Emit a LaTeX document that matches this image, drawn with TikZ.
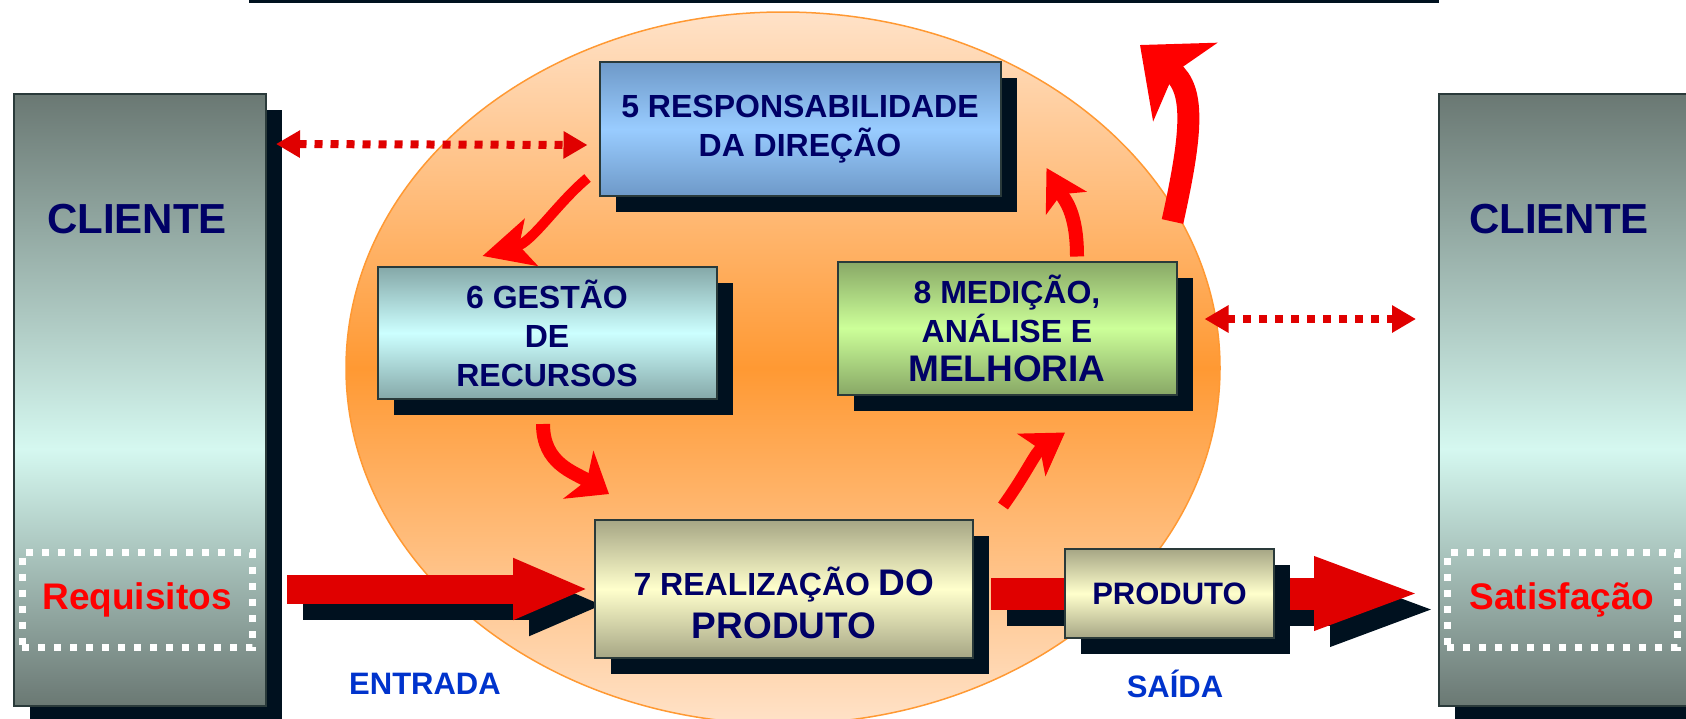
\documentclass[tikz,border=0pt]{standalone}
\usepackage{fontspec}
\setmainfont{Liberation Sans}
\usetikzlibrary{arrows.meta,shadows}

\definecolor{navy}{HTML}{000066}
\definecolor{shadowc}{HTML}{00111F}
\definecolor{boxline}{HTML}{2A3A3A}
\definecolor{redA}{HTML}{FF0000}
\definecolor{redB}{HTML}{E00000}
\definecolor{blueT}{HTML}{0033CC}
\definecolor{cdark}{HTML}{6A7873}
\definecolor{clight}{HTML}{D5F8F0}
\definecolor{dirdark}{HTML}{6E99C8}
\definecolor{dirlight}{HTML}{99CCFF}
\definecolor{resdark}{HTML}{85A8A8}
\definecolor{reslight}{HTML}{CCFFFF}
\definecolor{meddark}{HTML}{88A866}
\definecolor{medlight}{HTML}{CCFF99}
\definecolor{prodark}{HTML}{A6A685}
\definecolor{prolight}{HTML}{FFFFCC}
\definecolor{eorange}{HTML}{FF9933}
\definecolor{epeach}{HTML}{FFE2C8}

\pgfdeclareverticalshading{clientshade}{100bp}{color(0bp)=(cdark); color(25bp)=(cdark); color(46bp)=(clight); color(75bp)=(cdark); color(100bp)=(cdark)}

\pgfdeclarelayer{back}
\pgfdeclarelayer{mid}
\pgfsetlayers{back,mid,main}

\tikzset{
  box/.style={draw=boxline, line width=2pt, inner sep=0pt, align=center, text=navy,
    font=\fontsize{32}{39}\selectfont\bfseries,
    drop shadow={shadow xshift=16pt, shadow yshift=-16pt, fill=shadowc, opacity=1}},
  client/.style={box, shading=clientshade, minimum width=252pt, minimum height=612pt},
  clienttext/.style={text=navy, font=\fontsize{42}{48}\selectfont\bfseries},
  reqbox/.style={draw=white, line width=7pt, dash pattern=on 7pt off 9pt,
    minimum width=230pt, minimum height=95pt, text=redA, font=\fontsize{37}{42}\selectfont\bfseries},
  dotarrow/.style={draw=redB, line width=8pt, dash pattern=on 8pt off 8pt,
    {Triangle[length=24pt,width=26pt]}-{Triangle[length=24pt,width=26pt]}},
  bigarrow/.style={line width=#1},
  swoosh/.style={draw=redA, line width=#1},
  flowlabel/.style={text=blueT, font=\fontsize{31}{36}\selectfont\bfseries},
}

\begin{document}
\begin{tikzpicture}[x=1pt, y=-1pt]
	\clip (0,0) rectangle (1686,718);

	% top rule
	\draw [line width=3pt, shadowc] (249,1.5) -- (1439,1.5);

	% client left
	\node [client] (cliL) at (140,400) {};
	\node [clienttext] (cliLt) at (137,219) {CLIENTE};
	\node [reqbox] (req) at (137,600) {Requisitos};

	% client right
	\node [client] (cliR) at (1565,400) {};
	\node [clienttext] (cliRt) at (1559,219) {CLIENTE};
	\node [reqbox] (sat) at (1562,600) {Satisfação};

	% process boxes
	\node [box, top color=dirdark, bottom color=dirdark, middle color=dirlight,
		minimum width=401pt, minimum height=134pt] (b5) at (800,129) {5 RESPONSABILIDADE\\DA DIREÇÃO};
	\node [box, top color=resdark, bottom color=resdark, middle color=reslight,
		minimum width=339pt, minimum height=132pt] (b6) at (547,333) {6 GESTÃO\\DE\\RECURSOS};
	\node [box, top color=meddark, bottom color=meddark, middle color=medlight,
		minimum width=339pt, minimum height=133pt] (b8) at (1007,328)
		{8 MEDIÇÃO,\\ANÁLISE E\\{\fontsize{37}{44}\selectfont MELHORIA}};
	\node [box, top color=prodark, bottom color=prodark, middle color=prolight,
		minimum width=378pt, minimum height=138pt] (b7) at (784,589) {};
	\node [text=navy, align=center, font=\fontsize{32}{43}\selectfont\bfseries] (b7t) at (784,603)
		{7 REALIZAÇÃO {\fontsize{37}{43}\selectfont DO}\\{\fontsize{37}{43}\selectfont PRODUTO}};
	\node [box, top color=prodark, bottom color=prodark, middle color=prolight,
		font=\fontsize{31}{36}\selectfont\bfseries,
		minimum width=209pt, minimum height=89pt] (prod) at (1169.5,593.5) {PRODUTO};

	% labels in / out
	\node [flowlabel] (entrada) at (425,684) {ENTRADA};
	\node [flowlabel] (saida) at (1175,684) {SAÍDA};

	% system ellipse
	\begin{pgfonlayer}{back}
	\draw [draw=eorange, line width=1.5pt, top color=epeach, bottom color=epeach, middle color=eorange]
		(783,368) ellipse [x radius=437, y radius=356];
	\end{pgfonlayer}

	% input and output flow
	\begin{pgfonlayer}{mid}
	\draw [bigarrow=29pt, shadowc, -{Triangle[length=76pt,width=56pt]}, transform canvas={shift={(16pt,-16pt)}}]
		([xshift=20pt]cliL.east |- b7.west) -- ([xshift=-5pt]b7.west);
	\draw [bigarrow=29pt, redB, -{Triangle[length=76pt,width=56pt]}]
		([xshift=20pt]cliL.east |- b7.west) -- ([xshift=-5pt]b7.west);
	\draw [bigarrow=32pt, shadowc, -{Triangle[length=110pt,width=65pt]}, transform canvas={shift={(16pt,-16pt)}}]
		([xshift=17pt]b7.east |- prod.west) -- ([xshift=-14pt]cliR.west |- prod.west);
	\draw [bigarrow=32pt, redB, -{Triangle[length=110pt,width=65pt]}]
		([xshift=17pt]b7.east |- prod.west) -- ([xshift=-14pt]cliR.west |- prod.west);
	\end{pgfonlayer}

	% client dialogue
	\draw [dotarrow] ([shift={(9,51)}]cliL.north east) -- ([shift={(-11,16)}]b5.west);
	\draw [dotarrow] ([shift={(27,-9)}]b8.east) -- ([shift={(-22,-81)}]cliR.west);

	% improvement cycle
	\draw [swoosh=10pt, -{Stealth[length=50pt,width=48pt,inset=12pt]}]
		([shift={(-11,-19)}]b5.south west) .. controls +(-30,25) and +(50,-14) .. ([shift={(106,-10)}]b6.north west);
	\draw [swoosh=14pt, -{Stealth[length=36pt,width=56pt,inset=10pt]}]
		([shift={(-4,24)}]b6.south) .. controls +(0,40) and +(-35,-22) .. ([shift={(15,-25)}]b7.north west);
	\draw [swoosh=12pt, -{Stealth[length=40pt,width=50pt,inset=10pt]}]
		([shift={(29,-13)}]b7.north east) .. controls +(25,-35) and +(-30,20) .. ([shift={(58,37)}]b8.south);
	\draw [swoosh=14pt, -{Stealth[length=40pt,width=46pt,inset=10pt]}]
		([shift={(70,-4)}]b8.north) .. controls +(0,-45) and +(18,32) .. ([shift={(45,39)}]b5.east);
	\coordinate (exit) at (1140,45);
	\draw [swoosh=22pt, -{Stealth[length=58pt,width=100pt,inset=14pt]}]
		([shift={(-5,-39)}]b8.north east) .. controls +(20,-90) and +(55,45) .. (exit);

\end{tikzpicture}
\end{document}
